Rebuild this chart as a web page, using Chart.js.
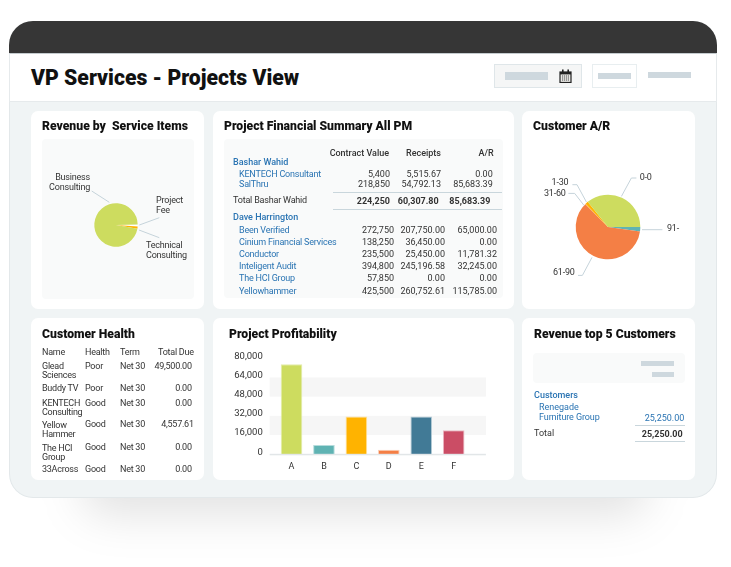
<!DOCTYPE html>
<html>
<head>
<meta charset="utf-8">
<title>VP Services - Projects View</title>
<script src="https://cdn.jsdelivr.net/npm/chart.js@4"></script>
<style>
    html, body { margin: 0; padding: 0; width: 731px; height: 567px; background: #fff; overflow: hidden; font-family: Roboto, sans-serif; }
    .box { position: absolute; box-sizing: border-box; }
    .txt { position: absolute; white-space: pre; line-height: 0; font-size: 9px; color: #333; }
    .card { background: #fff; border-radius: 7px; }
    .panel { background: #f9fafa; border-radius: 4px; }
    .stub { background: #ced8de; }
    canvas { position: absolute; }
</style>
</head>
<body>
<div class="box" style="left:80px;top:450px;width:570px;height:66px;border-radius:30px;background:rgba(0,0,0,.11);filter:blur(22px);"></div>
<div class="box" style="left:9px;top:21px;width:708px;height:477px;border-radius:24px;background:#f0f4f5;overflow:hidden;">
    <div class="box" style="left:0;top:32px;width:708px;height:445px;border:1px solid #e3e8ea;border-top:none;border-radius:0 0 24px 24px;"></div>
    <div class="box" style="left:0;top:0;width:708px;height:33px;background:#363636;"></div>
    <div class="box" style="left:0;top:32px;width:708px;height:49px;background:#fff;border:1px solid #e6eaec;border-top:1px solid #c4cbce;"></div>
</div>

<div class="box" style="left:494px;top:64px;width:88px;height:24px;background:#f5f6f6;border:1px solid #dfe6e9;"></div>
<div class="box stub" style="left:505px;top:72px;width:43px;height:8px;"></div>
<svg class="box" style="left:559px;top:69px;" width="13" height="14" viewBox="0 0 13 14">
    <rect x="1" y="3" width="11" height="10.5" fill="#e9e9e6" stroke="#222" stroke-width="1.2"/>
    <rect x="1" y="3" width="11" height="2.4" fill="#222"/>
    <rect x="3" y="0.5" width="1.6" height="3.5" fill="#222"/>
    <rect x="8.4" y="0.5" width="1.6" height="3.5" fill="#222"/>
    <path d="M3 7h7M3 9h7M3 11h7" stroke="#444" stroke-width="1" stroke-dasharray="1.2 0.8"/>
</svg>
<div class="box" style="left:592px;top:64px;width:45px;height:24px;background:#fff;border:1px solid #e8eef0;"></div>
<div class="box stub" style="left:598px;top:73px;width:33px;height:6px;"></div>
<div class="box stub" style="left:648px;top:72px;width:43px;height:6px;"></div>

<div class="box card" style="left:31px;top:111px;width:173px;height:198px;"></div>
<div class="box card" style="left:213px;top:111px;width:301px;height:198px;"></div>
<div class="box card" style="left:522px;top:111px;width:173px;height:198px;"></div>
<div class="box card" style="left:31px;top:318px;width:173px;height:162px;"></div>
<div class="box card" style="left:213px;top:318px;width:301px;height:162px;"></div>
<div class="box card" style="left:522px;top:318px;width:173px;height:162px;"></div>

<div class="box panel" style="left:42px;top:139px;width:152px;height:160px;"></div>
<div class="box panel" style="left:224px;top:139px;width:279px;height:159px;"></div>
<div class="box panel" style="left:533px;top:353px;width:152px;height:30px;"></div>
<div class="box stub" style="left:641px;top:361px;width:33px;height:5px;"></div>
<div class="box stub" style="left:652px;top:372px;width:22px;height:5px;"></div>
<div class="box" style="left:333px;top:192px;width:169px;height:1px;background:#c9d6dc;"></div>
<div class="box" style="left:333px;top:209px;width:169px;height:1px;background:#c9d6dc;"></div>
<div class="box" style="left:635px;top:425px;width:50px;height:1px;background:#c9d6dc;"></div>
<div class="box" style="left:635px;top:441px;width:50px;height:1px;background:#c9d6dc;"></div>

<canvas id="serviceChart" width="152" height="160" style="left:40px;top:145px;width:152px;height:160px;"></canvas>
<canvas id="arChart" width="156" height="140" style="left:530.3px;top:157.3px;width:156px;height:140px;"></canvas>
<canvas id="profitChart" width="300" height="135" style="left:213px;top:340px;width:300px;height:135px;"></canvas>
<div id="texts"></div>

<script>
    var serviceLabels = ['Project Fee', 'Technical Consulting', 'Business Consulting'];
    var serviceValues = [1.4, 1.6, 97];
    var arLabels = ['91-', '61-90', '31-60', '1-30', '0-0'];
    var arValues = [2.2, 60.3, 0.3, 1.4, 35.8];
    var projectLabels = ['A', 'B', 'C', 'D', 'E', 'F'];
    var projectValues = [75000, 7700, 31500, 3800, 31500, 20000];
    var profitTicks = [0, 16000, 32000, 48000, 64000, 80000];

    var summaryHeaders = ['Contract Value', 'Receipts', 'A/R'];
    var basharRows = ['KENTECH Consultant', 'SalThru'];
    var basharContract = ['5,400', '218,850'];
    var basharReceipts = ['5,515.67', '54,792.13'];
    var basharAr = ['0.00', '85,683.39'];
    var basharTotals = ['224,250', '60,307.80', '85,683.39'];
    var daveRows = ['Been Verified', 'Cinium Financial Services', 'Conductor', 'Inteligent Audit', 'The HCI Group', 'Yellowhammer'];
    var daveContract = ['272,750', '138,250', '235,500', '394,800', '57,850', '425,500'];
    var daveReceipts = ['207,750.00', '36,450.00', '25,450.00', '245,196.58', '0.00', '260,752.61'];
    var daveAr = ['65,000.00', '0.00', '11,781.32', '32,245.00', '0.00', '115,785.00'];

    var healthHeaders = ['Name', 'Health', 'Term', 'Total Due'];
    var healthNames = [['Glead', 'Sciences'], ['Buddy TV'], ['KENTECH', 'Consulting'], ['Yellow', 'Hammer'], ['The HCI', 'Group'], ['33Across']];
    var healthStatus = ['Poor', 'Poor', 'Good', 'Good', 'Good', 'Good'];
    var healthTerms = ['Net 30', 'Net 30', 'Net 30', 'Net 30', 'Net 30', 'Net 30'];
    var healthDue = ['49,500.00', '0.00', '0.00', '4,557.61', '0.00', '0.00'];

    var BLUE = '#2a74b3';
    var FONT = 'Roboto, sans-serif';

    // pie callouts, offsets measured from the centre of each pie
    var serviceCallouts = [
        { lines: ['Business', 'Consulting'], align: 'right', x: -26, y: -47.3, path: [[-24.3, -34], [-6.7, -22.7]] },
        { lines: ['Project', 'Fee'], align: 'left', x: 40, y: -24.3, path: [[23.3, 0], [43.3, -7.3]] },
        { lines: ['Technical', 'Consulting'], align: 'left', x: 30, y: 20.7, path: [[23, 5], [43.3, 12.7]] }
    ];
    var arCallouts = [
        { lines: ['0-0'], align: 'left', x: 31.7, y: -49, path: [[13.4, -30.6], [23.4, -49], [28.4, -49]] },
        { lines: ['1-30'], align: 'right', x: -39.6, y: -44, path: [[-35.6, -42.3], [-31, -42.3], [-21.6, -25]] },
        { lines: ['31-60'], align: 'right', x: -42.3, y: -33.6, path: [[-39.6, -33.6], [-33.3, -33.6], [-24, -21.6]] },
        { lines: ['61-90'], align: 'right', x: -33.3, y: 46, path: [[-30, 48.4], [-25.6, 48.4], [-16, 30.4]] },
        { lines: ['91-'], align: 'left', x: 59, y: 1.4, path: [[34, 2.7], [54.4, 2.7]] }
    ];

    function put(x, y, text, opts) {
        opts = opts || {};
        var el = document.createElement('div');
        el.className = 'txt';
        el.textContent = text;
        el.style.top = y + 'px';
        if (opts.right) {
            el.style.right = (731 - x) + 'px';
        } else {
            el.style.left = x + 'px';
        }
        if (opts.size) el.style.fontSize = opts.size + 'px';
        if (opts.weight) el.style.fontWeight = opts.weight;
        if (opts.color) el.style.color = opts.color;
        if (opts.spacing) el.style.letterSpacing = opts.spacing + 'px';
        document.getElementById('texts').appendChild(el);
    }

    function title(x, y, text) {
        put(x, y, text, { size: 12.2, weight: 900, color: '#111' });
    }

    function renderTitles() {
        put(31, 78, 'VP Services - Projects View', { size: 21.2, weight: 900, color: '#111' });
        title(42, 126, 'Revenue by  Service Items');
        title(224, 126, 'Project Financial Summary All PM');
        title(533, 126, 'Customer A/R');
        title(42, 334, 'Customer Health');
        title(229, 334, 'Project Profitability');
        title(534, 334, 'Revenue top 5 Customers');
    }

    function renderSummary() {
        var rights = [389, 441, 493.7];
        var narrow = -0.2;
        summaryHeaders.forEach(function (h, i) {
            put(rights[i], 153, h, { right: true, weight: 500 });
        });
        put(233, 162, 'Bashar Wahid', { color: BLUE, weight: 500 });
        basharRows.forEach(function (name, i) {
            var y = 174 + i * 10;
            put(239, y, name, { color: BLUE, spacing: narrow });
            put(390, y, basharContract[i], { right: true });
            put(441, y, basharReceipts[i], { right: true });
            put(492.7, y, basharAr[i], { right: true });
        });
        put(233, 200, 'Total Bashar Wahid', { spacing: narrow });
        put(390, 200.5, basharTotals[0], { right: true, weight: 700 });
        put(438.7, 200.5, basharTotals[1], { right: true, weight: 700 });
        put(490.3, 200.5, basharTotals[2], { right: true, weight: 700 });
        put(233, 217, 'Dave Harrington', { color: BLUE, weight: 500 });
        var rowY = [230, 242, 254, 266, 278, 291];
        daveRows.forEach(function (name, i) {
            put(239, rowY[i], name, { color: BLUE, spacing: narrow });
            put(394, rowY[i], daveContract[i], { right: true });
            put(445, rowY[i], daveReceipts[i], { right: true });
            put(497, rowY[i], daveAr[i], { right: true });
        });
    }

    function renderHealth() {
        var narrow = -0.25;
        put(42, 352, healthHeaders[0], { spacing: narrow });
        put(85, 352, healthHeaders[1], { spacing: narrow });
        put(120, 352, healthHeaders[2], { spacing: narrow });
        put(193.7, 352, healthHeaders[3], { right: true, spacing: narrow });
        var nameY = [[366, 375], [388], [403, 412], [425, 433.5], [448, 456.5], [469]];
        var cellY = [366, 388, 403, 424, 447, 469];
        healthNames.forEach(function (lines, i) {
            lines.forEach(function (line, j) {
                put(42, nameY[i][j], line, { spacing: narrow });
            });
            put(85, cellY[i], healthStatus[i], { spacing: narrow });
            put(120, cellY[i], healthTerms[i], { spacing: narrow });
            put(i === 3 ? 193.7 : 191.7, cellY[i], healthDue[i], { right: true, spacing: narrow });
        });
    }

    function renderTopCustomers() {
        put(534, 395, 'Customers', { color: BLUE, weight: 500 });
        put(539, 407, 'Renegade', { color: BLUE });
        put(539, 417, 'Furniture Group', { color: BLUE, spacing: -0.1 });
        put(684.3, 418, '25,250.00', { right: true, color: BLUE });
        put(534, 433, 'Total');
        put(682.7, 434, '25,250.00', { right: true, weight: 700 });
    }

    var calloutPlugin = {
        id: 'callouts',
        afterDraw: function (chart, args, opts) {
            var arc = chart.getDatasetMeta(0).data[0];
            var ctx = chart.ctx;
            ctx.save();
            ctx.strokeStyle = '#c5d3da';
            ctx.lineWidth = 1;
            ctx.fillStyle = '#333';
            ctx.font = '9px ' + FONT;
            ctx.letterSpacing = '-0.2px';
            ctx.textBaseline = 'middle';
            opts.items.forEach(function (item) {
                ctx.beginPath();
                item.path.forEach(function (p, i) {
                    if (i === 0) ctx.moveTo(arc.x + p[0], arc.y + p[1]);
                    else ctx.lineTo(arc.x + p[0], arc.y + p[1]);
                });
                ctx.stroke();
                ctx.textAlign = item.align;
                item.lines.forEach(function (line, i) {
                    ctx.fillText(line, arc.x + item.x, arc.y + item.y + i * 10);
                });
            });
            ctx.restore();
        }
    };

    function renderPie(id, labels, values, colors, radius, rotation, callouts) {
        new Chart(document.getElementById(id), {
            type: 'pie',
            data: {
                labels: labels,
                datasets: [{ data: values, backgroundColor: colors, borderWidth: 0, radius: radius }]
            },
            options: {
                responsive: false,
                animation: false,
                rotation: rotation,
                plugins: { legend: { display: false }, tooltip: { enabled: false }, callouts: { items: callouts } }
            },
            plugins: [calloutPlugin]
        });
    }

    var bandPlugin = {
        id: 'bands',
        beforeDatasetsDraw: function (chart) {
            var y = chart.scales.y;
            var area = chart.chartArea;
            var left = area.left - 5.6;
            var width = area.right + 16 - left;
            var ctx = chart.ctx;
            ctx.save();
            ctx.fillStyle = '#f6f6f6';
            [[profitTicks[3], profitTicks[4]], [profitTicks[1], profitTicks[2]]].forEach(function (b) {
                ctx.fillRect(left, y.getPixelForValue(b[1]), width, y.getPixelForValue(b[0]) - y.getPixelForValue(b[1]));
            });
            ctx.restore();
        },
        afterDatasetsDraw: function (chart) {
            var area = chart.chartArea;
            var ctx = chart.ctx;
            ctx.save();
            ctx.fillStyle = '#e2e6e8';
            ctx.fillRect(area.left - 5.6, chart.scales.y.getPixelForValue(0) - 0.5, area.right + 16 - area.left + 5.6, 1.5);
            ctx.restore();
        }
    };

    function renderProfitChart() {
        new Chart(document.getElementById('profitChart'), {
            type: 'bar',
            data: {
                labels: projectLabels,
                datasets: [{
                    data: projectValues,
                    backgroundColor: ['#cddc5f', '#5fb3b3', '#ffb300', '#f47f45', '#417a96', '#cb4d65'],
                    borderColor: ['#e3ecaa', '#b5dcdc', '#ffe09a', '#fbd0b8', '#b5cbd6', '#eab8c2'],
                    borderWidth: 1,
                    barPercentage: 0.667,
                    categoryPercentage: 1
                }]
            },
            options: {
                responsive: false,
                animation: false,
                layout: { padding: { top: 17.8, right: 43.1 } },
                plugins: { legend: { display: false }, tooltip: { enabled: false } },
                scales: {
                    x: {
                        grid: { display: false, drawTicks: false },
                        border: { display: false },
                        afterFit: function (axis) { axis.height = 20.7; },
                        ticks: { color: '#333', padding: 7, maxRotation: 0, font: { family: FONT, size: 9 } }
                    },
                    y: {
                        min: 0,
                        max: 80000,
                        grid: { display: false, drawTicks: false },
                        border: { display: false },
                        afterFit: function (axis) { axis.width = 62.3; },
                        afterBuildTicks: function (axis) {
                            axis.ticks = profitTicks.map(function (v) { return { value: v }; });
                        },
                        ticks: {
                            color: '#333',
                            padding: 12.5,
                            labelOffset: -2,
                            font: { family: FONT, size: 9.5 },
                            callback: function (v) { return v.toLocaleString('en-US'); }
                        }
                    }
                }
            },
            plugins: [bandPlugin]
        });
    }

    renderTitles();
    renderSummary();
    renderHealth();
    renderTopCustomers();
    renderPie('serviceChart', serviceLabels, serviceValues, ['#ffffff', '#ffb300', '#cddc5f'], 21.7, 89, serviceCallouts);
    renderPie('arChart', arLabels, arValues, ['#5fb3b3', '#f47f45', '#f9a13a', '#ffb300', '#cddc5f'], 32.3, 90, arCallouts);
    renderProfitChart();
</script>
</body>
</html>
